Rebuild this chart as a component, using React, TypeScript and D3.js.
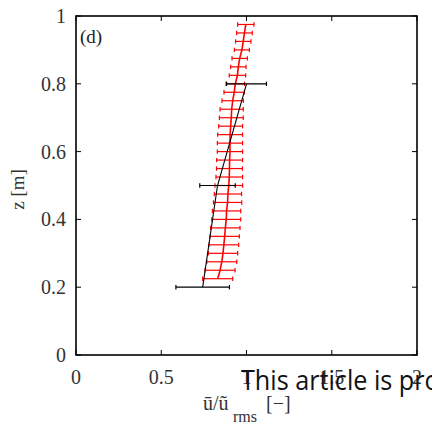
import React from "react";
import * as d3 from "d3";

const zRed = [0.975, 0.95, 0.925, 0.9, 0.875, 0.85, 0.825, 0.8, 0.775, 0.75, 0.725, 0.7, 0.675, 0.65, 0.625, 0.6, 0.575, 0.55, 0.525, 0.5, 0.475, 0.45, 0.425, 0.4, 0.375, 0.35, 0.325, 0.3, 0.275, 0.25, 0.225];
const uRed = [0.996, 0.988, 0.981, 0.973, 0.96, 0.952, 0.947, 0.934, 0.928, 0.919, 0.913, 0.911, 0.907, 0.904, 0.903, 0.903, 0.901, 0.9, 0.899, 0.896, 0.891, 0.889, 0.883, 0.881, 0.876, 0.872, 0.867, 0.862, 0.855, 0.845, 0.831];
const errRed = [0.048, 0.046, 0.045, 0.044, 0.045, 0.045, 0.048, 0.054, 0.06, 0.063, 0.068, 0.07, 0.07, 0.073, 0.074, 0.074, 0.076, 0.076, 0.078, 0.081, 0.08, 0.083, 0.083, 0.085, 0.086, 0.086, 0.087, 0.086, 0.088, 0.088, 0.088];

const zBlack = [0.2, 0.5, 0.8];
const uBlack = [0.743, 0.83, 1.0];
const errBlack = [0.157, 0.104, 0.117];

const xTicks = [0, 0.5, 1, 1.5, 2];
const yTicks = [0, 0.2, 0.4, 0.6, 0.8, 1];

const W = 432;
const H = 425;
const L = 76, R = 417, T = 16, B = 355;

export default function App() {
  const x = d3.scaleLinear().domain([0, 2]).range([L, R]);
  const y = d3.scaleLinear().domain([0, 1]).range([B, T]);

  const redPts = zRed.map((z, i) => ({ z, u: uRed[i], e: errRed[i] }));
  const blackPts = zBlack.map((z, i) => ({ z, u: uBlack[i], e: errBlack[i] }));

  const line = d3.line<{ z: number; u: number }>().x((d) => x(d.u)).y((d) => y(d.z));

  const tickLen = 5;
  const cap = 2.2;
  const labelColor = "#333";
  const SERIF = "Liberation Serif";

  return (
    <svg width={W} height={H} style={{ position: "absolute", left: 0, top: 0 }}>
      <rect x={0} y={0} width={W} height={H} fill="#fff" />
      {/* red error bars */}
      <g stroke="#ff0000" strokeWidth={1.2} fill="none">
        {redPts.map((d, i) => (
          <g key={i}>
            <line x1={x(d.u - d.e)} x2={x(d.u + d.e)} y1={y(d.z)} y2={y(d.z)} />
            <line x1={x(d.u - d.e)} x2={x(d.u - d.e)} y1={y(d.z) - cap} y2={y(d.z) + cap} />
            <line x1={x(d.u + d.e)} x2={x(d.u + d.e)} y1={y(d.z) - cap} y2={y(d.z) + cap} />
          </g>
        ))}
      </g>
      <path d={line(redPts) || ""} stroke="#ff0000" strokeWidth={1.6} fill="none" />
      {/* black */}
      <g stroke="#000" strokeWidth={1.2} fill="none">
        {blackPts.map((d, i) => (
          <g key={i}>
            <line x1={x(d.u - d.e)} x2={x(d.u + d.e)} y1={y(d.z)} y2={y(d.z)} />
            <line x1={x(d.u - d.e)} x2={x(d.u - d.e)} y1={y(d.z) - cap} y2={y(d.z) + cap} />
            <line x1={x(d.u + d.e)} x2={x(d.u + d.e)} y1={y(d.z) - cap} y2={y(d.z) + cap} />
          </g>
        ))}
      </g>
      <path d={line(blackPts) || ""} stroke="#000" strokeWidth={1.1} fill="none" />

      {/* axes box */}
      <rect x={L} y={T} width={R - L} height={B - T} fill="none" stroke="#000" strokeWidth={1.6} />
      <g stroke="#000" strokeWidth={1}>
        {xTicks.map((t) => (
          <g key={"xt" + t}>
            <line x1={x(t)} x2={x(t)} y1={B} y2={B - tickLen} />
            <line x1={x(t)} x2={x(t)} y1={T} y2={T + tickLen} />
          </g>
        ))}
        {yTicks.map((t) => (
          <g key={"yt" + t}>
            <line x1={L} x2={L + tickLen} y1={y(t)} y2={y(t)} />
            <line x1={R} x2={R - tickLen} y1={y(t)} y2={y(t)} />
          </g>
        ))}
      </g>
      {xTicks.map((t) => (
        <text key={"xl" + t} x={x(t)} y={384} textAnchor="middle" fontFamily={SERIF} fontSize={20} fill={labelColor}>
          {String(t)}
        </text>
      ))}
      {yTicks.map((t) => (
        <text key={"yl" + t} x={66} y={y(t) + 7} textAnchor="end" fontFamily={SERIF} fontSize={20} fill={labelColor}>
          {String(t)}
        </text>
      ))}
      <text x={80} y={43} fontFamily={SERIF} fontSize={19} fill="#222">
        (d)
      </text>
      <text
        transform={`translate(24, ${(T + B) / 2 + 4}) rotate(-90)`}
        textAnchor="middle"
        fontFamily={SERIF}
        fontSize={19}
        fill={labelColor}
      >
        z [m]
      </text>
      <text x={203} y={410} fontSize={20} fontFamily={SERIF} fill={labelColor}>ū/ũ</text>
      <text x={233} y={422} fontSize={16} fontFamily={SERIF} fill={labelColor}>rms</text>
      <text x={266} y={410} fontSize={20} fontFamily={SERIF} fill={labelColor}>[−]</text>
      <text
        transform="translate(241, 390) scale(0.9, 1)"
        fontFamily="Open Sans"
        fontSize={28}
        fill="#111"
      >
        This article is protected by copyright
      </text>
    </svg>
  );
}
